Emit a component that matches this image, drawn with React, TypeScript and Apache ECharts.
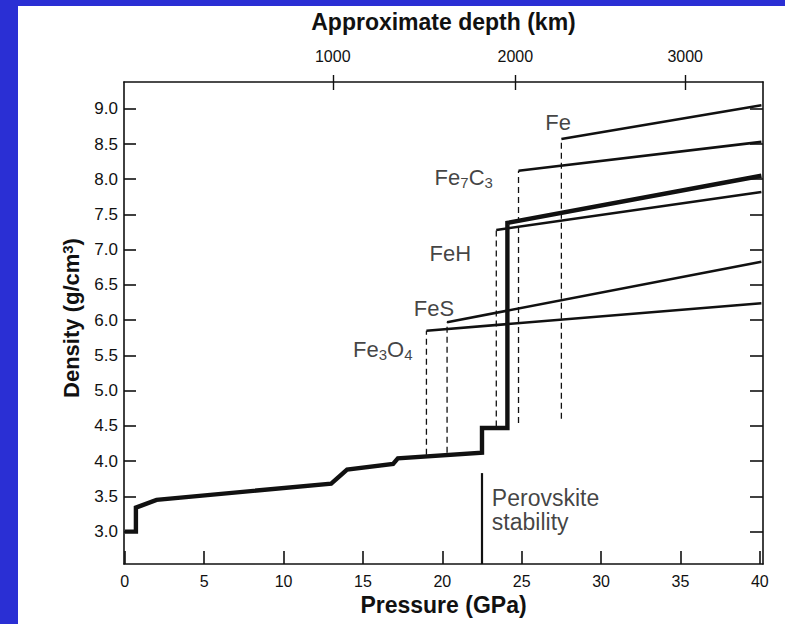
import React, { useEffect, useRef } from "react";
import * as echarts from "echarts";

// ---- data ----
const pressureTicks = [0, 5, 10, 15, 20, 25, 30, 35, 40];
const densityTicks = [3.0, 3.5, 4.0, 4.5, 5.0, 5.5, 6.0, 6.5, 7.0, 7.5, 8.0, 8.5, 9.0];
const depthTicks = [1000, 2000, 3000];
const depthTickPressure = [13.1, 24.6, 35.3];

// mantle density profile (thick line)
const mainPressure = [0, 0.7, 0.7, 2.0, 13.0, 14.0, 16.9, 17.2, 22.5, 22.5, 24.1, 24.1, 40.1];
const mainDensity = [3.0, 3.0, 3.34, 3.45, 3.68, 3.88, 3.96, 4.04, 4.12, 4.47, 4.47, 7.38, 8.05];

// iron-compound curves
const phaseNames = ["Fe", "Fe{sub|7}C{sub|3}", "FeH", "FeS", "Fe{sub|3}O{sub|4}"];
const onsetPressure = [27.5, 24.8, 23.4, 20.3, 19.0];
const dropBottomDensity = [4.6, 4.54, 4.49, 4.12, 4.09];
const onsetDensity = [8.57, 8.12, 7.28, 5.97, 5.85];
const endPressure = 40.1;
const endDensity = [9.05, 8.53, 7.82, 6.83, 6.24];

// perovskite stability marker
const perovskitePressure = 22.5;
const perovskiteTop = 3.83;
const perovskiteText = "Perovskite\nstability";

// annotation anchors (pressure, density)
const phaseLabelPressure = [27.3, 21.35, 20.5, 19.47, 16.25];
const phaseLabelDensity = [8.8, 8.03, 6.95, 6.16, 5.59];
const perovskiteLabelAt = [23.12, 3.31];

const X_MIN = -0.05;
const X_MAX = 40.2;
const Y_MIN = 2.54;
const Y_MAX = 9.38;

const FONT = "'Liberation Sans', Arial, Helvetica, sans-serif";
const INK = "#111";

export default function App() {
  const ref = useRef<HTMLDivElement>(null);

  useEffect(() => {
    if (!ref.current) return;
    const chart = echarts.init(ref.current, undefined, { renderer: "svg" });

    const series: any[] = [];
    phaseNames.forEach((_, i) => {
      series.push({
        type: "line",
        xAxisIndex: 0,
        yAxisIndex: 0,
        symbol: "none",
        silent: true,
        data: [
          [onsetPressure[i], dropBottomDensity[i]],
          [onsetPressure[i], onsetDensity[i]],
        ],
        lineStyle: { color: INK, width: 1.3, type: [6, 4] },
        z: 2,
      });
      series.push({
        type: "line",
        xAxisIndex: 0,
        yAxisIndex: 0,
        symbol: "none",
        silent: true,
        data: [
          [onsetPressure[i], onsetDensity[i]],
          [endPressure, endDensity[i]],
        ],
        lineStyle: { color: INK, width: 2.6 },
        z: 3,
      });
    });

    series.push({
      type: "line",
      xAxisIndex: 0,
      yAxisIndex: 0,
      symbol: "none",
      silent: true,
      data: mainPressure.map((p, i) => [p, mainDensity[i]]),
      lineStyle: { color: INK, width: 4.4, join: "miter" },
      z: 4,
    });

    series.push({
      type: "line",
      xAxisIndex: 0,
      yAxisIndex: 0,
      symbol: "none",
      silent: true,
      data: [
        [perovskitePressure, perovskiteTop],
        [perovskitePressure, Y_MIN],
      ],
      lineStyle: { color: INK, width: 2.2 },
      z: 4,
    });

    const richStyles = {
      m: { fontSize: 22, fontFamily: FONT, color: INK, lineHeight: 26 },
      sub: { fontSize: 15, fontFamily: FONT, color: INK, verticalAlign: "bottom", lineHeight: 14 },
    };

    series.push({
      type: "scatter",
      xAxisIndex: 0,
      yAxisIndex: 0,
      symbolSize: 0,
      silent: true,
      itemStyle: { color: "transparent" },
      data: phaseNames.map((n, i) => ({
        value: [phaseLabelPressure[i], phaseLabelDensity[i]],
        label: {
          show: true,
          position: "inside",
          formatter: n
            .split(/(\{sub\|\d\})/)
            .filter((s) => s.length > 0)
            .map((s) => (s.startsWith("{") ? s : `{m|${s}}`))
            .join(""),
          rich: richStyles,
        },
      })),
      z: 5,
    });

    series.push({
      type: "scatter",
      xAxisIndex: 0,
      yAxisIndex: 0,
      symbolSize: 0,
      silent: true,
      itemStyle: { color: "transparent" },
      data: [
        {
          value: perovskiteLabelAt,
          label: {
            show: true,
            position: "right",
            distance: 0,
            formatter: perovskiteText,
            fontSize: 23,
            lineHeight: 24,
            fontFamily: FONT,
            color: INK,
            align: "left",
          },
        },
      ],
      z: 5,
    });

    const axisLine = { show: true, onZero: false, lineStyle: { color: INK, width: 1.6 } };

    chart.setOption({
      animation: false,
      backgroundColor: "#ffffff",
      grid: { left: 124, right: 22, top: 82, bottom: 60, containLabel: false },
      xAxis: [
        {
          type: "value",
          position: "bottom",
          min: X_MIN,
          max: X_MAX,
          axisLine,
          axisTick: {
            show: true,
            inside: true,
            length: 13,
            customValues: pressureTicks,
            lineStyle: { color: INK, width: 1.6 },
          },
          axisLabel: {
            show: true,
            customValues: pressureTicks,
            margin: 9,
            fontSize: 16,
            fontFamily: FONT,
            color: INK,
            formatter: (v: number) => String(Math.round(v)),
          },
          splitLine: { show: false },
          name: "Pressure (GPa)",
          nameLocation: "middle",
          nameGap: 27,
          nameTextStyle: { fontSize: 23, fontWeight: "bold", fontFamily: FONT, color: INK },
        },
        {
          type: "value",
          position: "top",
          min: X_MIN,
          max: X_MAX,
          axisLine,
          axisTick: {
            show: true,
            inside: true,
            length: 8,
            customValues: depthTickPressure,
            lineStyle: { color: INK, width: 1.4 },
          },
          axisLabel: {
            show: true,
            customValues: depthTickPressure,
            margin: 18,
            fontSize: 16,
            fontFamily: FONT,
            color: INK,
            formatter: (v: number) => {
              const idx = depthTickPressure.findIndex((p) => Math.abs(p - v) < 1e-6);
              return idx >= 0 ? String(depthTicks[idx]) : "";
            },
          },
          splitLine: { show: false },
          name: "Approximate depth (km)",
          nameLocation: "middle",
          nameGap: 49,
          nameTextStyle: { fontSize: 23, fontWeight: "bold", fontFamily: FONT, color: INK },
        },
        {
          type: "value",
          position: "top",
          min: X_MIN,
          max: X_MAX,
          axisLine: { show: false, onZero: false },
          axisTick: {
            show: true,
            inside: false,
            length: 7,
            customValues: depthTickPressure,
            lineStyle: { color: INK, width: 1.4 },
          },
          axisLabel: { show: false },
          splitLine: { show: false },
        },
      ],
      yAxis: [
        {
          type: "value",
          position: "left",
          min: Y_MIN,
          max: Y_MAX,
          axisLine,
          axisTick: {
            show: true,
            inside: true,
            length: 12,
            customValues: densityTicks,
            lineStyle: { color: INK, width: 1.6 },
          },
          axisLabel: {
            show: true,
            customValues: densityTicks,
            margin: 6,
            fontSize: 17,
            fontFamily: FONT,
            color: INK,
            formatter: (v: number) => v.toFixed(1),
          },
          splitLine: { show: false },
          name: "Density (g/cm{sup|3})",
          nameLocation: "middle",
          nameRotate: 90,
          nameGap: 42,
          nameTextStyle: {
            fontSize: 22,
            fontWeight: "bold",
            fontFamily: FONT,
            color: INK,
            padding: [0, 0, 0, 10],
            rich: {
              sup: { fontSize: 15, fontWeight: "bold", fontFamily: FONT, color: INK, verticalAlign: "top", lineHeight: 14 },
            },
          },
        },
        {
          type: "value",
          position: "right",
          min: Y_MIN,
          max: Y_MAX,
          axisLine,
          axisTick: {
            show: true,
            inside: true,
            length: 13,
            customValues: densityTicks,
            lineStyle: { color: INK, width: 1.6 },
          },
          axisLabel: { show: false },
          splitLine: { show: false },
        },
      ],
      graphic: [
        { type: "rect", left: 0, top: 0, shape: { width: 785, height: 6 }, style: { fill: "#2a2fd4" }, silent: true },
        { type: "rect", left: 0, top: 0, shape: { width: 18, height: 624 }, style: { fill: "#2a2fd4" }, silent: true },
      ],
      series,
    });

    return () => chart.dispose();
  }, []);

  return (
    <div
      ref={ref}
      style={{ position: "fixed", left: 0, top: 0, width: 785, height: 624, background: "#fff" }}
    />
  );
}
